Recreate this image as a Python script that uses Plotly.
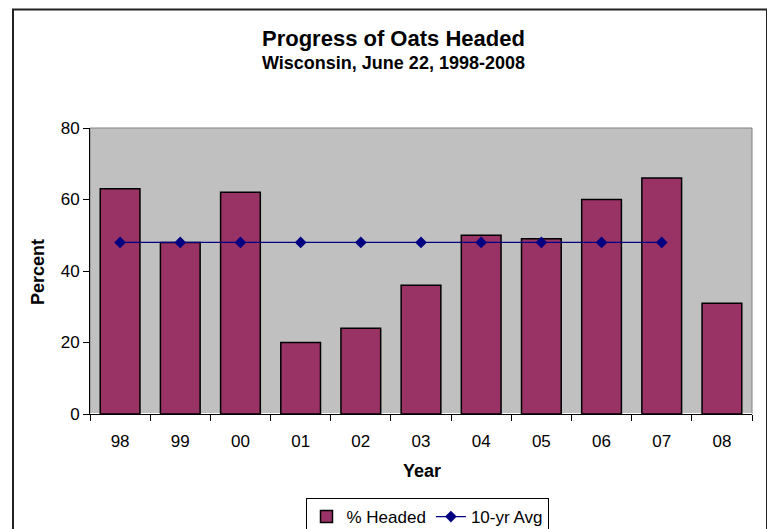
import plotly.graph_objects as go

years = ["98", "99", "00", "01", "02", "03", "04", "05", "06", "07", "08"]
pct_headed = [63, 48, 62, 20, 24, 36, 50, 49, 60, 66, 31]
avg_years = ["98", "99", "00", "01", "02", "03", "04", "05", "06", "07"]
ten_yr_avg = [48, 48, 48, 48, 48, 48, 48, 48, 48, 48]

FONT = "Liberation Sans, Arial, sans-serif"

fig = go.Figure()
fig.add_trace(go.Bar(
    x=years, y=pct_headed, name="% Headed",
    marker=dict(color="#993366", line=dict(color="#000000", width=1.5)),
))
fig.add_trace(go.Scatter(
    x=avg_years, y=ten_yr_avg, name="10-yr Avg", mode="lines+markers",
    line=dict(color="#000080", width=1.2),
    marker=dict(symbol="diamond", size=9, color="#000080"),
))

# page body has an 8px margin; work in page coordinates and shift
OFF = 8
L, R, T, B = 90 - OFF, 752 - OFF, 128 - OFF, 414 - OFF
W, H = 775 - OFF, 529 - OFF
pw, ph = R - L, B - T
def px(x):
    return (x - OFF - L) / pw
def py(y):
    return (B - (y - OFF)) / ph

fig.update_layout(
    width=W, height=H,
    margin=dict(l=L, r=W - R, t=T, b=H - B, pad=0, autoexpand=False),
    paper_bgcolor="white", plot_bgcolor="#C0C0C0",
    bargap=0.34,
    font=dict(family=FONT, size=17, color="#000000"),
    showlegend=True,
    legend=dict(
        orientation="h", x=px(427), xanchor="center", y=py(498), yanchor="top",
        bordercolor="#000000", borderwidth=1, bgcolor="white",
        font=dict(family=FONT, size=17), tracegroupgap=0,
    ),
    xaxis=dict(
        type="category", showgrid=False, showline=True, linecolor="#000000", linewidth=1,
        ticks="outside", tickson="boundaries", ticklen=6, tickcolor="#000000",
        ticklabelstandoff=12,
        tickfont=dict(family=FONT, size=17), range=[-0.5, 10.5],
    ),
    yaxis=dict(
        range=[0, 80], dtick=20, showgrid=False, showline=True, linecolor="#000000", linewidth=1,
        ticks="outside", ticklen=6, tickcolor="#000000",
        tickfont=dict(family=FONT, size=17),
    ),
    shapes=[
        dict(type="rect", xref="paper", yref="paper", x0=0, x1=1, y0=0, y1=1,
             line=dict(color="#808080", width=1), layer="below"),
        dict(type="rect", xref="paper", yref="paper", x0=px(13), x1=px(767), y0=py(560), y1=py(9.5),
             line=dict(color="#222222", width=2)),
    ],
    annotations=[
        dict(text="<b>Progress of Oats Headed</b>", xref="paper", yref="paper",
             x=px(393), y=py(39), xanchor="center", yanchor="middle",
             showarrow=False, font=dict(family=FONT, size=22)),
        dict(text="<b>Wisconsin, June 22, 1998-2008</b>", xref="paper", yref="paper",
             x=px(393), y=py(63), xanchor="center", yanchor="middle",
             showarrow=False, font=dict(family=FONT, size=18)),
        dict(text="<b>Year</b>", xref="paper", yref="paper",
             x=px(422), y=py(471), xanchor="center", yanchor="middle",
             showarrow=False, font=dict(family=FONT, size=18)),
        dict(text="<b>Percent</b>", xref="paper", yref="paper", textangle=-90,
             x=px(38), y=py(272), xanchor="center", yanchor="middle",
             showarrow=False, font=dict(family=FONT, size=18)),
    ],
)

fig.write_html("out.html")
